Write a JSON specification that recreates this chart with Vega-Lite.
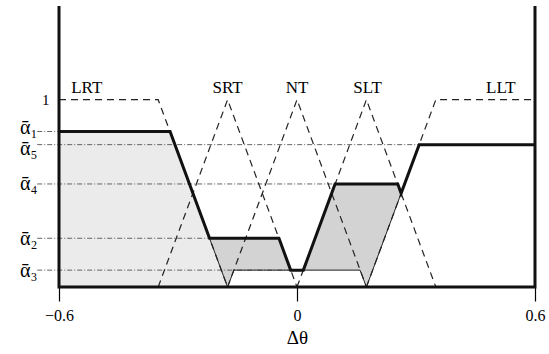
{
  "$schema": "https://vega.github.io/schema/vega-lite/v6.json",
  "width": 476,
  "height": 281,
  "autosize": {"type": "none"},
  "padding": {"left": 59, "top": 6, "right": 14, "bottom": 67},
  "background": "white",
  "config": {"view": {"stroke": null}, "font": "Liberation Serif"},
  "datasets": {
    "areas": [
      {"region": "A", "kind": "stippled", "x": -0.6, "y": 0.83, "y2": 0},
      {"region": "A", "kind": "stippled", "x": -0.32, "y": 0.83, "y2": 0},
      {"region": "A", "kind": "stippled", "x": -0.175, "y": 0, "y2": 0},
      {"region": "B", "kind": "hatched", "x": -0.2205, "y": 0.26, "y2": 0.26},
      {"region": "B", "kind": "hatched", "x": -0.175, "y": 0.26, "y2": 0},
      {"region": "B", "kind": "hatched", "x": -0.159, "y": 0.26, "y2": 0.09},
      {"region": "B", "kind": "hatched", "x": -0.0455, "y": 0.26, "y2": 0.09},
      {"region": "B", "kind": "hatched", "x": -0.016, "y": 0.09, "y2": 0.09},
      {"region": "C", "kind": "hatched", "x": 0.016, "y": 0.09, "y2": 0.09},
      {"region": "C", "kind": "hatched", "x": 0.096, "y": 0.55, "y2": 0.09},
      {"region": "C", "kind": "hatched", "x": 0.159, "y": 0.55, "y2": 0.09},
      {"region": "C", "kind": "hatched", "x": 0.175, "y": 0.55, "y2": 0},
      {"region": "C", "kind": "hatched", "x": 0.254, "y": 0.55, "y2": 0.451},
      {"region": "C", "kind": "hatched", "x": 0.2625, "y": 0.5, "y2": 0.5}
    ],
    "guides": [
      {"level": "a1", "x": -0.655, "x2": -0.6, "y": 0.83},
      {"level": "a5", "x": -0.655, "x2": 0.308, "y": 0.76},
      {"level": "a4", "x": -0.655, "x2": 0.096, "y": 0.55},
      {"level": "a2", "x": -0.655, "x2": -0.2205, "y": 0.26},
      {"level": "a3", "x": -0.655, "x2": -0.016, "y": 0.09}
    ],
    "mf": [
      {"mf": "LRT", "i": 0, "x": -0.6, "y": 1},
      {"mf": "LRT", "i": 1, "x": -0.35, "y": 1},
      {"mf": "LRT", "i": 2, "x": -0.175, "y": 0},
      {"mf": "SRT", "i": 0, "x": -0.35, "y": 0},
      {"mf": "SRT", "i": 1, "x": -0.175, "y": 1},
      {"mf": "SRT", "i": 2, "x": 0, "y": 0},
      {"mf": "NT", "i": 0, "x": -0.175, "y": 0},
      {"mf": "NT", "i": 1, "x": 0, "y": 1},
      {"mf": "NT", "i": 2, "x": 0.175, "y": 0},
      {"mf": "SLT", "i": 0, "x": 0, "y": 0},
      {"mf": "SLT", "i": 1, "x": 0.175, "y": 1},
      {"mf": "SLT", "i": 2, "x": 0.35, "y": 0},
      {"mf": "LLT", "i": 0, "x": 0.175, "y": 0},
      {"mf": "LLT", "i": 1, "x": 0.35, "y": 1},
      {"mf": "LLT", "i": 2, "x": 0.6, "y": 1}
    ],
    "thin": [
      {"seg": "lrt", "i": 0, "x": -0.2205, "y": 0.26},
      {"seg": "lrt", "i": 1, "x": -0.175, "y": 0},
      {"seg": "nt", "i": 0, "x": -0.175, "y": 0},
      {"seg": "nt", "i": 1, "x": -0.159, "y": 0.09},
      {"seg": "nt", "i": 2, "x": 0.159, "y": 0.09},
      {"seg": "nt", "i": 3, "x": 0.175, "y": 0},
      {"seg": "llt", "i": 0, "x": 0.175, "y": 0},
      {"seg": "llt", "i": 1, "x": 0.2625, "y": 0.5}
    ],
    "agg": [
      {"i": 0, "x": -0.6, "y": 0.83},
      {"i": 1, "x": -0.32, "y": 0.83},
      {"i": 2, "x": -0.2205, "y": 0.26},
      {"i": 3, "x": -0.0455, "y": 0.26},
      {"i": 4, "x": -0.016, "y": 0.09},
      {"i": 5, "x": 0.016, "y": 0.09},
      {"i": 6, "x": 0.096, "y": 0.55},
      {"i": 7, "x": 0.254, "y": 0.55},
      {"i": 8, "x": 0.2625, "y": 0.5},
      {"i": 9, "x": 0.308, "y": 0.76},
      {"i": 10, "x": 0.6, "y": 0.76}
    ],
    "frame": [
      {"i": 0, "x": -0.6, "y": 1.5},
      {"i": 1, "x": -0.6, "y": 0},
      {"i": 2, "x": 0.6, "y": 0},
      {"i": 3, "x": 0.6, "y": 1.5}
    ],
    "labels": [
      {"label": "LRT", "x": -0.53, "y": 1.06},
      {"label": "SRT", "x": -0.175, "y": 1.06},
      {"label": "NT", "x": 0, "y": 1.06},
      {"label": "SLT", "x": 0.178, "y": 1.06},
      {"label": "LLT", "x": 0.514, "y": 1.06}
    ]
  },
  "encoding": {
    "x": {
      "field": "x",
      "type": "quantitative",
      "scale": {"domain": [-0.6, 0.6], "nice": false, "zero": false},
      "axis": {
        "values": [-0.6, 0, 0.6],
        "domain": false,
        "grid": false,
        "tickSize": 14,
        "tickWidth": 1.2,
        "tickColor": "black",
        "labelExpr": "datum.value < 0 ? '−0.6' : (datum.value == 0 ? '0' : '0.6')",
        "labelFont": "Liberation Serif",
        "labelFontSize": 16,
        "labelColor": "black",
        "labelPadding": 6,
        "labelFlush": false,
        "labelOverlap": false,
        "title": "Δθ",
        "titleFont": "Liberation Serif",
        "titleFontSize": 19,
        "titleFontWeight": "normal",
        "titleColor": "black",
        "titlePadding": 5
      }
    },
    "y": {
      "field": "y",
      "type": "quantitative",
      "scale": {"domain": [0, 1.5], "nice": false, "zero": false},
      "axis": {
        "values": [0.09, 0.26, 0.55, 0.76, 0.83, 1],
        "domain": false,
        "grid": false,
        "ticks": false,
        "labelOverlap": false,
        "labelBound": false,
        "labelFlush": false,
        "labelExpr": "datum.value == 1 ? '1' : datum.value == 0.83 ? 'ᾱ₁' : datum.value == 0.76 ? 'ᾱ₅' : datum.value == 0.55 ? 'ᾱ₄' : datum.value == 0.26 ? 'ᾱ₂' : 'ᾱ₃'",
        "labelFont": "Liberation Serif",
        "labelFontSize": {"condition": {"test": "datum.value == 1", "value": 15}, "value": 20},
        "labelPadding": {"condition": {"test": "datum.value == 1", "value": 10}, "value": 22},
        "labelOffset": {"condition": [{"test": "datum.value == 0.83", "value": -4}, {"test": "datum.value == 0.76", "value": 4}], "value": 0},
        "labelColor": "black",
        "labelBaseline": "middle",
        "title": null
      }
    }
  },
  "layer": [
    {
      "data": {"name": "areas"},
      "mark": {"type": "area", "opacity": 1},
      "encoding": {
        "y2": {"field": "y2"},
        "detail": {"field": "region"},
        "color": {"field": "kind", "type": "nominal", "scale": {"domain": ["stippled", "hatched"], "range": ["#ebebeb", "#d3d3d3"]}, "legend": null}
      }
    },
    {
      "data": {"name": "guides"},
      "mark": {"type": "rule", "color": "#555", "strokeWidth": 0.9, "strokeDash": [5, 2, 1, 2]},
      "encoding": {"x2": {"field": "x2"}}
    },
    {
      "data": {"name": "mf"},
      "mark": {"type": "line", "color": "#222", "strokeWidth": 1.2, "strokeDash": [7, 5]},
      "encoding": {"detail": {"field": "mf"}, "order": {"field": "i"}}
    },
    {
      "data": {"name": "thin"},
      "mark": {"type": "line", "color": "#222", "strokeWidth": 1},
      "encoding": {"detail": {"field": "seg"}, "order": {"field": "i"}}
    },
    {
      "data": {"name": "agg"},
      "mark": {"type": "line", "color": "#111", "strokeWidth": 3, "strokeJoin": "miter"},
      "encoding": {"order": {"field": "i"}}
    },
    {
      "data": {"name": "frame"},
      "mark": {"type": "line", "color": "#111", "strokeWidth": 3, "strokeJoin": "miter"},
      "encoding": {"order": {"field": "i"}}
    },
    {
      "data": {"name": "labels"},
      "mark": {"type": "text", "font": "Liberation Serif", "fontSize": 17, "baseline": "middle", "align": "center", "color": "black"},
      "encoding": {"text": {"field": "label"}}
    }
  ]
}
